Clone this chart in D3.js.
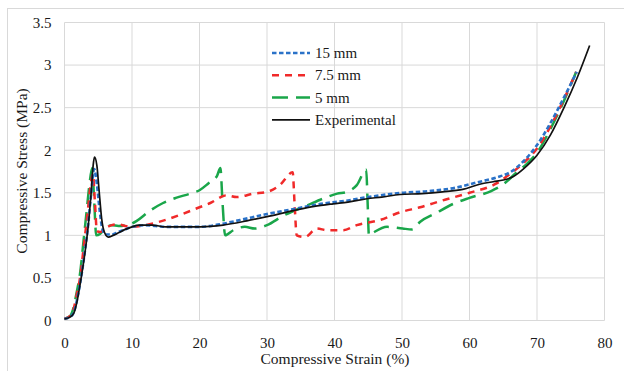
<!DOCTYPE html>
<meta charset="utf-8">
<style>
    body { margin: 0; background: #fff; }
    text { font-family: "Liberation Serif", "Times New Roman", serif; fill: #1a1a1a; }
    .grid line { stroke: #d9d9d9; stroke-width: 1px; }
    .series { fill: none; }
</style>
<svg width="624" height="371"></svg>
<script src="https://d3js.org/d3.v7.min.js"></script>
<script>

    // strain (%) , stress (MPa)
    var series15mm = [
        [0, 0.02], [0.8, 0.04], [1.4, 0.1], [1.9, 0.26], [2.3, 0.43], [3.0, 0.8], [3.5, 1.12],
        [3.9, 1.45], [4.4, 1.78], [4.8, 1.6], [5.2, 1.3], [5.6, 1.08], [6.1, 1.01], [7, 1.01],
        [8, 1.04], [9, 1.07], [10, 1.1], [12, 1.12], [13.5, 1.11], [15, 1.1], [20, 1.1], [23, 1.13],
        [26, 1.18], [30, 1.25], [34, 1.31], [38, 1.37], [42, 1.41], [45, 1.45], [50, 1.5],
        [54, 1.52], [58, 1.56], [61, 1.62], [64, 1.68], [66, 1.74], [68, 1.87], [70, 2.06],
        [72, 2.32], [74, 2.62], [75.9, 2.92]
    ];
    var series75mm = [
        [0, 0.02], [0.8, 0.05], [1.3, 0.12], [1.8, 0.3], [2.3, 0.5], [2.9, 0.9], [3.4, 1.25],
        [3.8, 1.55], [4.2, 1.72], [4.5, 1.4], [4.8, 1.05], [5.3, 1.04], [6, 1.08], [7, 1.12],
        [8, 1.13], [9, 1.11], [10, 1.1], [12, 1.12], [14.5, 1.17], [17.1, 1.24], [20, 1.33],
        [21.6, 1.38], [24, 1.47], [25.5, 1.45], [28, 1.49], [30, 1.51], [31.9, 1.59], [33.8, 1.74],
        [34.1, 1.35], [34.4, 1.0], [35.6, 0.98], [37.4, 1.08], [38.9, 1.06], [41.3, 1.06],
        [43.3, 1.12], [46.7, 1.18], [49.7, 1.27], [52.7, 1.33], [56, 1.41], [60, 1.5],
        [64, 1.61], [66, 1.72], [68, 1.85], [70, 2.02], [72, 2.28], [74, 2.6], [75.8, 2.92]
    ];
    var series5mm = [
        [0, 0.02], [0.8, 0.05], [1.3, 0.14], [1.8, 0.33], [2.3, 0.55], [2.8, 0.92], [3.3, 1.3],
        [3.7, 1.6], [4.1, 1.79], [4.4, 1.4], [4.7, 1.0], [5.3, 1.02], [6, 1.08], [7, 1.12],
        [8, 1.11], [9.7, 1.13], [10.7, 1.17], [12.5, 1.28], [14.6, 1.38], [16.5, 1.44],
        [18.6, 1.49], [20, 1.53], [21.3, 1.61], [22.6, 1.7], [23.1, 1.79], [23.4, 1.4],
        [23.8, 1.0], [25, 1.06], [26.7, 1.1], [28.2, 1.08], [30, 1.12], [32.4, 1.23],
        [35.9, 1.35], [38.9, 1.45], [40.4, 1.49], [41.8, 1.51], [43.3, 1.59], [44.7, 1.77],
        [44.9, 1.4], [45.1, 1.0], [45.7, 1.03], [47.8, 1.1], [50.1, 1.08], [51.5, 1.07],
        [52.7, 1.16], [55, 1.26], [57.6, 1.37], [60, 1.44], [63.2, 1.52], [65, 1.6],
        [67, 1.74], [68.5, 1.84], [70, 1.97], [72, 2.25], [74, 2.58], [75.8, 2.92]
    ];
    var seriesExp = [
        [0, 0.02], [0.8, 0.04], [1.4, 0.09], [1.9, 0.24], [2.3, 0.42], [3.0, 0.78], [3.5, 1.1],
        [3.9, 1.45], [4.3, 1.86], [4.45, 1.92], [4.8, 1.82], [5.1, 1.55], [5.5, 1.2], [5.9, 1.04],
        [6.5, 0.98], [7.2, 1.0], [8, 1.03], [9, 1.07], [10, 1.1], [11, 1.12], [13, 1.12],
        [15, 1.1], [18, 1.1], [20.1, 1.1], [23.5, 1.12], [27, 1.17], [30, 1.22], [33.9, 1.29],
        [37, 1.34], [39.8, 1.37], [42, 1.39], [44.8, 1.43], [47, 1.45], [49.7, 1.48],
        [53, 1.49], [56, 1.51], [59, 1.54], [61.5, 1.6], [63.5, 1.63], [65, 1.65], [66.5, 1.69],
        [68, 1.78], [70, 1.94], [72, 2.18], [74, 2.5], [76, 2.86], [77.8, 3.23]
    ];

    var legendNames = ["15 mm", "7.5 mm", "5 mm", "Experimental"];
    var xTicks = [0, 10, 20, 30, 40, 50, 60, 70, 80];
    var yTicks = [0, 0.5, 1, 1.5, 2, 2.5, 3, 3.5];

    var svg = d3.select("svg");

    // chart area border (Excel style)
    svg.append("rect")
        .attr("x", 7.5).attr("y", 8.5)
        .attr("width", 700).attr("height", 500)
        .attr("fill", "none")
        .attr("stroke", "#d9d9d9");

    var x = d3.scaleLinear().domain([0, 80]).range([64.5, 604.5]),
        y = d3.scaleLinear().domain([0, 3.5]).range([320.5, 22.5]);

    var grid = svg.append("g").attr("class", "grid");
    grid.selectAll(".gx").data(xTicks).enter().append("line")
        .attr("x1", d => x(d)).attr("x2", d => x(d))
        .attr("y1", y(0)).attr("y2", y(3.5));
    grid.selectAll(".gy").data(yTicks).enter().append("line")
        .attr("x1", x(0)).attr("x2", x(80))
        .attr("y1", d => y(d)).attr("y2", d => y(d));

    // tick labels via d3 axes, lines hidden
    var gxAxis = svg.append("g")
        .attr("transform", "translate(0," + y(0) + ")")
        .call(d3.axisBottom(x).tickValues(xTicks).tickSize(0).tickPadding(17).tickFormat(d3.format("d")));
    var gyAxis = svg.append("g")
        .attr("transform", "translate(" + x(0) + ",0)")
        .call(d3.axisLeft(y).tickValues(yTicks).tickSize(0).tickPadding(13).tickFormat(d => d));
    [gxAxis, gyAxis].forEach(function (g) {
        g.select(".domain").remove();
        g.selectAll("text")
            .style("font-family", "Liberation Serif, serif")
            .style("font-size", "15px")
            .attr("fill", "#1a1a1a");
    });

    svg.append("text")
        .attr("x", 335).attr("y", 364)
        .attr("text-anchor", "middle")
        .style("font-size", "15.5px")
        .text("Compressive Strain (%)");
    svg.append("text")
        .attr("transform", "translate(27," + 171 + ") rotate(-90)")
        .attr("text-anchor", "middle")
        .style("font-size", "15.5px")
        .text("Compressive Stress (MPa)");

    var line = d3.line()
        .curve(d3.curveMonotoneX)
        .x(d => x(d[0]))
        .y(d => y(d[1]));

    var styles = [
        { data: series5mm, color: "#1aa64a", width: 2.5, dash: "16,8" },
        { data: series75mm, color: "#f02a2a", width: 2.5, dash: "7,6" },
        { data: series15mm, color: "#2a72c8", width: 2.6, dash: "4.5,2.5" },
        { data: seriesExp, color: "#111", width: 1.7, dash: null }
    ];

    svg.selectAll(".series").data(styles).enter().append("path")
        .attr("class", "series")
        .attr("d", d => line(d.data))
        .attr("stroke", d => d.color)
        .attr("stroke-width", d => d.width)
        .attr("stroke-dasharray", d => d.dash);

    // legend
    var legendStyles = [styles[2], styles[1], styles[0], styles[3]];
    var legend = svg.append("g");
    legendNames.forEach(function (name, i) {
        var yy = 53 + i * 22.3;
        legend.append("line")
            .attr("x1", 272).attr("x2", 310)
            .attr("y1", yy).attr("y2", yy)
            .attr("stroke", legendStyles[i].color)
            .attr("stroke-width", legendStyles[i].width)
            .attr("stroke-dasharray", legendStyles[i].dash);
        legend.append("text")
            .attr("x", 315).attr("y", yy + 5)
            .style("font-size", "15px")
            .text(name);
    });

</script>
